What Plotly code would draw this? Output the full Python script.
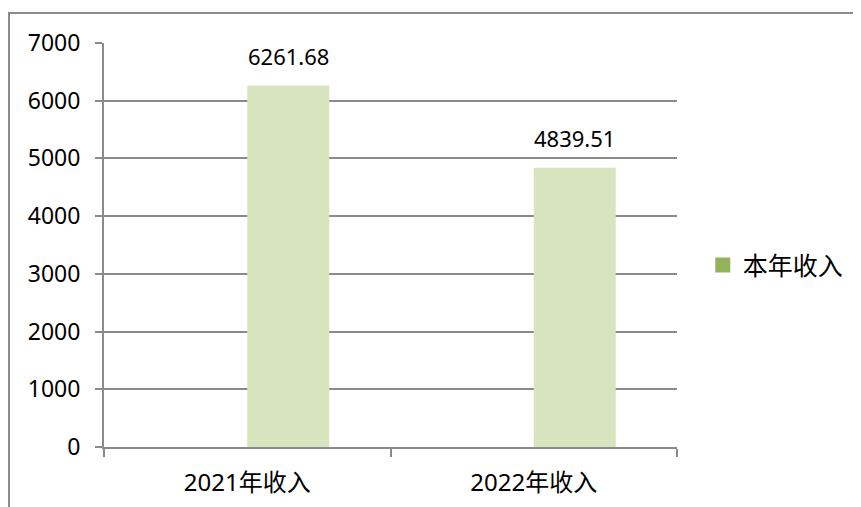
import plotly.graph_objects as go

categories = ["2021年收入", "2022年收入"]
income = [6261.68, 4839.51]
series_name = "本年收入"
y_ticks = [0, 1000, 2000, 3000, 4000, 5000, 6000, 7000]

FONT = "Noto Sans, Noto Sans CJK SC, sans-serif"
BAR_COLOR = "#D7E4BD"
LEGEND_COLOR = "#93B25A"
GRID = "#8A8A8A"

fig = go.Figure()
# empty first series slot (chart was a two-series group with one slot unused)
fig.add_trace(go.Bar(x=categories, y=[None, None], showlegend=False,
                     marker_color=BAR_COLOR, hoverinfo="skip"))
fig.add_trace(go.Bar(x=categories, y=income, name=series_name, showlegend=False,
                     marker=dict(color=BAR_COLOR, line=dict(width=0))))
# legend entry
fig.add_trace(go.Scatter(x=[categories[0]], y=[None], mode="markers", name=series_name,
                         marker=dict(symbol="square", size=15, color=LEGEND_COLOR)))

for c, v in zip(categories, income):
    fig.add_annotation(x=c, y=v, text=f"{v:.2f}", showarrow=False,
                       xref="x", yref="y", yanchor="bottom", xshift=41, yshift=13,
                       font=dict(family=FONT, size=22, color="#000000"))

fig.update_layout(
    width=861, height=507,
    margin=dict(l=96, r=192, t=35, b=68),
    paper_bgcolor="white", plot_bgcolor="white",
    barmode="group", bargap=0.4276, bargroupgap=0,
    font=dict(family=FONT, size=22, color="#000000"),
    legend=dict(x=1.045, y=0.45, xanchor="left", yanchor="middle",
                font=dict(family=FONT, size=25, color="#000000"),
                bgcolor="rgba(0,0,0,0)", itemsizing="trace"),
    xaxis=dict(showgrid=False, showline=True, linecolor=GRID, linewidth=2,
               ticks="outside", tickson="boundaries", ticklen=8, tickcolor=GRID,
               tickwidth=2, ticklabelstandoff=13,
               tickfont=dict(family=FONT, size=24), fixedrange=True),
    yaxis=dict(range=[0, 7000], tickvals=y_ticks, showgrid=True, gridcolor=GRID,
               gridwidth=2, showline=True, linecolor=GRID, linewidth=2,
               ticks="outside", ticklen=7, tickcolor=GRID, tickwidth=2,
               ticklabelstandoff=10, zeroline=False,
               tickfont=dict(family=FONT, size=23), fixedrange=True),
    shapes=[dict(type="rect", xref="paper", yref="paper",
                 x0=-0.1658, x1=2.0, y0=-1.0, y1=1.0743,
                 line=dict(color="#8C8C8C", width=2), fillcolor="rgba(0,0,0,0)",
                 layer="below")],
)

fig.write_html("out.html")
